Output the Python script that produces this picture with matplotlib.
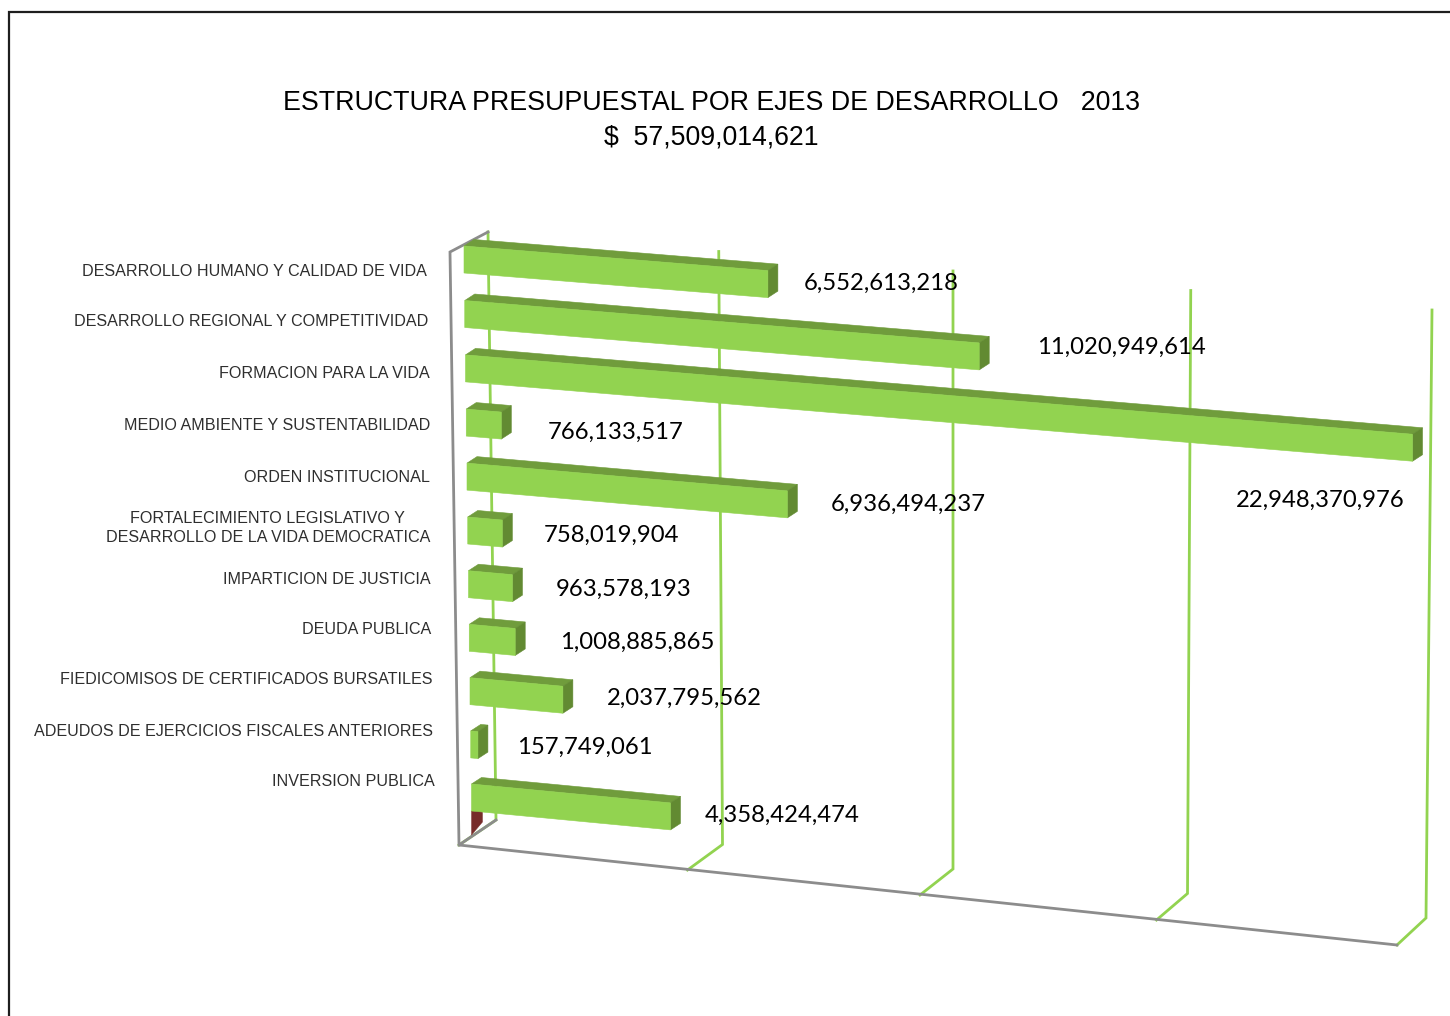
import matplotlib
matplotlib.use("Agg")
import matplotlib.pyplot as plt
from matplotlib.patches import Polygon

# ---- data ----
categories = [
    "DESARROLLO HUMANO Y CALIDAD DE VIDA",
    "DESARROLLO REGIONAL Y COMPETITIVIDAD",
    "FORMACION PARA LA VIDA",
    "MEDIO AMBIENTE Y SUSTENTABILIDAD",
    "ORDEN INSTITUCIONAL",
    "FORTALECIMIENTO LEGISLATIVO Y\nDESARROLLO DE LA VIDA DEMOCRATICA",
    "IMPARTICION DE JUSTICIA",
    "DEUDA PUBLICA",
    "FIEDICOMISOS DE CERTIFICADOS BURSATILES",
    "ADEUDOS DE EJERCICIOS FISCALES ANTERIORES",
    "INVERSION PUBLICA",
]
values = [6552613218, 11020949614, 22948370976, 766133517, 6936494237,
          758019904, 963578193, 1008885865, 2037795562, 157749061, 4358424474]
grid_values = [0, 5e9, 10e9, 15e9, 20e9]
axis_max = 20e9
title_lines = ["ESTRUCTURA PRESUPUESTAL POR EJES DE DESARROLLO   2013", "$  57,509,014,621"]

# ---- layout ----
cat_right = [427, 428, 430, 430, 430, 430, 431, 431, 433, 433, 435]
cat_y = [271, 322, 374, 426, 478, 528, 579, 630, 680, 732, 782]
val_x = [804, 1037, 1236, 548, 831, 544, 556, 560, 607, 517, 705]
val_y = [283, 347, 500, 432, 504, 535, 589, 642, 698, 747, 815]

FRONT, TOP, SIDE = "#92D350", "#709C3C", "#628A32"
GRID, AXIS, MAROON = "#92D350", "#8C8C8C", "#772C2A"
SANS, VALF = "Liberation Sans", "Lato"

def front_x(v):
    b = v / 1e9
    return 459 + 45.3 * b + 0.08 * b * b

def top_x(v):
    b = v / 1e9
    return 488 + 45.8 * b + 0.07 * b * b

def back_floor(v):
    b = v / 1e9
    return front_x(v) + 37 - 0.4 * b, 820 + 4.9 * b

def front_floor(v):
    return front_x(v), 845 + 5.0 * v / 1e9

fig = plt.figure(figsize=(14.5, 10.16), dpi=100, facecolor="white")
ax = fig.add_axes([0, 0, 1, 1])
ax.set_xlim(0, 1450)
ax.set_ylim(1016, 0)
ax.axis("off")

# outer frame (runs off the picture right and bottom)
ax.plot([9, 9, 1450], [1016, 12, 12], color="#1E1E1E", lw=1.6, solid_joinstyle="miter")

# gridlines on back wall and floor
for g in grid_values:
    fx, fy = front_floor(g)
    bx, by = back_floor(g)
    tx, ty = top_x(g), 232 + 3.9 * g / 1e9
    ax.plot([fx, bx, tx], [fy, by, ty], color=GRID, lw=2.0, zorder=1, solid_joinstyle="miter")

# axes: left wall, top return and the floor edge
x0, y0 = front_floor(0)
xe, ye = front_floor(axis_max)
bx0, by0 = back_floor(0)
ax.plot([bx0, x0, xe], [by0, y0, ye], color=AXIS, lw=2.0, zorder=2, solid_joinstyle="miter")
ax.plot([x0, 450, top_x(0)], [y0, 252, 232], color=AXIS, lw=2.0, zorder=2, solid_joinstyle="miter")

# bars
n = len(values)
H, DX, DY = 27.0, 10, -6.5
for i, v in enumerate(values):
    f = i / (n - 1)
    left = 464 + 7.5 * f
    top0 = 246 + 538 * f + 8 * f * (1 - f)
    slope = 0.081 + 0.014 * f
    length = (front_x(min(v, axis_max)) - front_x(0)) * (1.012 - 0.012 * f)
    right = left + length
    top1 = top0 + slope * length
    ax.add_patch(Polygon([(left, top0), (left + DX, top0 + DY), (right + DX, top1 + DY), (right, top1)],
                         fc=TOP, ec=TOP, lw=0.4, zorder=3))
    ax.add_patch(Polygon([(right, top1), (right + DX, top1 + DY), (right + DX, top1 + DY + H), (right, top1 + H)],
                         fc=SIDE, ec=SIDE, lw=0.4, zorder=3))
    ax.add_patch(Polygon([(left, top0), (right, top1), (right, top1 + H), (left, top0 + H)],
                         fc=FRONT, ec=FRONT, lw=0.4, zorder=4))
    ax.text(cat_right[i], cat_y[i], categories[i], ha="right", va="center", ma="center",
            family=SANS, fontsize=11.65, color="#2E2E2E", linespacing=1.3, zorder=6)
    ax.text(val_x[i], val_y[i], f"{v:,}", ha="left", va="center",
            family=VALF, fontsize=17.2, color="black", zorder=6)
    if i == n - 1:  # small dark series sliver under the last bar
        b = top0 + H
        ax.add_patch(Polygon([(left, b), (left + 11, b), (left + 11, b + 11), (left, b + 24)],
                             fc=MAROON, ec=MAROON, lw=0.3, zorder=2.5))

# title
ax.text(711.5, 102.5, title_lines[0], ha="center", va="center", family=SANS, fontsize=19.3, color="black")
ax.text(711, 137, title_lines[1], ha="center", va="center", family=SANS, fontsize=19.2, color="black")

fig.savefig("out.png", dpi=100)
